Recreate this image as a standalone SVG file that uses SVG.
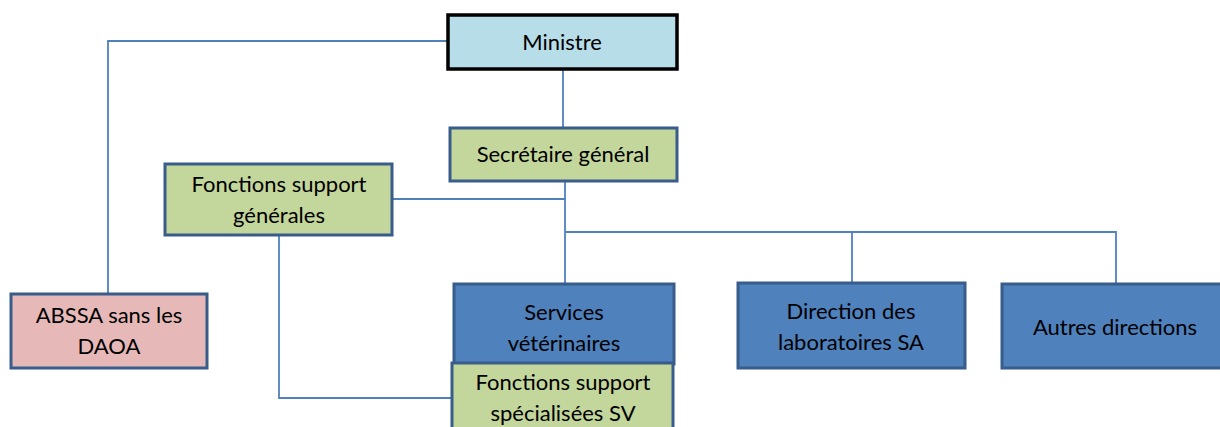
<svg xmlns="http://www.w3.org/2000/svg" width="1220" height="427" viewBox="0 0 1220 427">
<style>
.box{stroke:#385D8A;stroke-width:3}
.green{fill:#C3D69B}
.blue{fill:#4F81BD}
.pink{fill:#E6B9B8}
.min{fill:#B7DDE8;stroke:#000;stroke-width:3.5}
.conn{fill:none;stroke:#4F81BD;stroke-width:1.8}
text{font-family:Lato,"Open Sans","Liberation Sans",sans-serif;font-size:22px;fill:#000;text-anchor:middle}
</style>
<rect width="1220" height="427" fill="#fff"/>
<g id="connectors">
<polyline class="conn" points="447,41 108,41 108,293"/>
<line class="conn" x1="563" y1="69" x2="563" y2="127"/>
<polyline class="conn" points="565,181 565,283"/>
<line class="conn" x1="392" y1="199" x2="565" y2="199"/>
<polyline class="conn" points="565,232 1116,232 1116,284"/>
<line class="conn" x1="852" y1="232" x2="852" y2="283"/>
<polyline class="conn" points="279,235 279,398 452,398"/>
</g>
<g id="ministre">
<rect class="min" x="448" y="15" width="229" height="54"/>
<text x="562" y="50">Ministre</text>
</g>
<g id="secretaire">
<rect class="box green" x="450" y="128" width="227" height="53"/>
<text x="563" y="162">Secrétaire général</text>
</g>
<g id="fsg">
<rect class="box green" x="165" y="164" width="227" height="71"/>
<text x="279" y="192">Fonctions support</text>
<text x="279" y="223">générales</text>
</g>
<g id="abssa">
<rect class="box pink" x="11" y="294" width="196" height="74"/>
<text x="109" y="323">ABSSA sans les</text>
<text x="109" y="354">DAOA</text>
</g>
<g id="sv">
<rect class="box blue" x="454" y="284" width="220" height="80"/>
<text x="564" y="320">Services</text>
<text x="564" y="351">vétérinaires</text>
</g>
<g id="fssv">
<rect class="box green" x="452" y="363" width="221" height="70"/>
<text x="563" y="390">Fonctions support</text>
<text x="563" y="421">spécialisées SV</text>
</g>
<g id="dlsa">
<rect class="box blue" x="738" y="283" width="227" height="85"/>
<text x="851" y="319">Direction des</text>
<text x="851" y="350">laboratoires SA</text>
</g>
<g id="autres">
<rect class="box blue" x="1002" y="284" width="222" height="84"/>
<text x="1115" y="335">Autres directions</text>
</g>
</svg>
